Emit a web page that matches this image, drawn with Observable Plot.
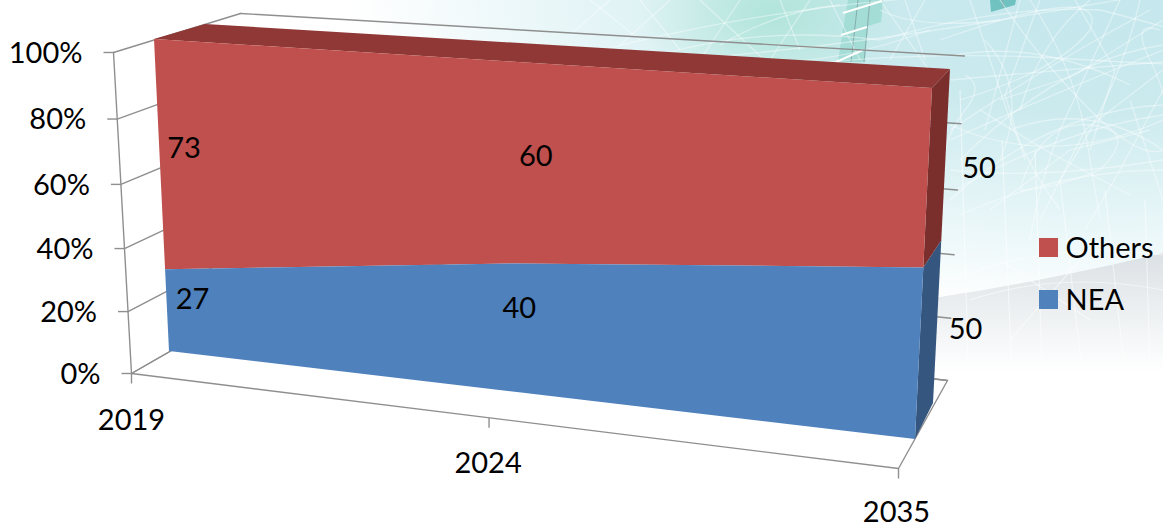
<!DOCTYPE html>
<html>
<head>
<meta charset="utf-8">
<script src="https://cdn.jsdelivr.net/npm/d3@7"></script>
<script src="https://cdn.jsdelivr.net/npm/@observablehq/plot@0.6"></script>
<style>
  html, body { margin: 0; padding: 0; background: #fff; }
  #stage { position: relative; width: 1163px; height: 528px; overflow: hidden; background: #fff; }
  #stage > * { position: absolute; left: 0; top: 0; }
  #tint { width: 1163px; height: 528px;
    background:
      radial-gradient(ellipse 130px 90px at 770px 15px, rgba(150,222,200,.55), rgba(150,222,200,0) 100%),
      radial-gradient(ellipse 740px 310px at 1090px 0px, #c4e7ed 0%, #cbeaee 35%, #e8f6f8 72%, #ffffff 100%);
  }
  #band { width: 1163px; height: 528px;
    clip-path: path("M640 335 C760 325 860 305 940 297 C1020 285 1100 268 1163 253 L1163 400 L640 400 Z");
    background: linear-gradient(to bottom, rgba(205,211,216,0) 230px, #dce1e5 255px, #e9edef 300px, #ffffff 372px);
  }
  #decor { filter: blur(.6px); }
</style>
</head>
<body>
<div id="stage">
  <div id="tint"></div>
  <div id="band"></div>
  <svg id="decor" width="1163" height="528" fill="none">
    <g fill="#a4dcd6">
      <path d="M848 0 H883 L881 22 L868 26 L865 62 H838 L842 35 Z"/>
    </g>
    <g fill="#6fc2c0"><path d="M990 0 H1016 L1015 5 L991 12 Z"/></g>
    <g stroke="#86adad" stroke-width="1"><path d="M858 0 L851 62 M870 0 L864 62 M1003 0 L1003 8"/></g>
    <g stroke="#fff" stroke-width="2"><path d="M843 13 L882 1 M841 35 L867 27 M836 62 L863 50"/></g>
    <g stroke="#fff" stroke-opacity=".4" stroke-width="1.3">
      <path d="M470 90 Q700 10 960 -5"/>
      <path d="M520 70 Q760 60 1000 20 T1163 -10"/>
      <path d="M600 110 Q800 40 1090 60 T1100 10 Q1000 5 880 40"/>
      <path d="M940 40 Q1110 -20 1090 30 Q1060 70 960 100"/>
      <path d="M950 140 Q1050 95 1163 50"/>
      <path d="M950 80 Q1060 70 1163 62"/>
      <path d="M960 160 Q1060 60 1163 45"/>
      <path d="M950 130 Q1040 70 1150 10"/>
      <path d="M965 75 Q985 85 965 110 Q950 130 945 150"/>
      <path d="M1000 0 Q1040 60 1090 110 T1163 150"/>
      <path d="M1030 0 Q1070 60 1085 130 L1100 220"/>
      <path d="M1120 0 L1060 130 Q1040 180 1030 240"/>
      <path d="M1140 0 Q1120 90 1060 180"/>
      <path d="M970 0 L1010 120 Q1030 170 1060 210"/>
      <path d="M1020 0 L985 130"/>
      <path d="M1160 30 Q1130 20 1150 60 T1163 120"/>
      <path d="M955 190 Q1060 130 1163 115"/>
      <path d="M950 125 Q1050 170 1163 120"/>
      <path d="M950 200 Q1050 110 1163 105"/>
      <path d="M1010 130 Q1090 100 1163 150"/>
      <path d="M950 170 Q1040 180 1163 160"/>
      <path d="M960 215 Q1060 170 1163 170"/>
      <path d="M1020 190 Q1040 120 1090 125 T1100 170 Q1050 190 1020 190"/>
      <path d="M880 0 L950 100"/>
      <path d="M905 0 L925 60"/>
      <path d="M925 0 L890 60"/>
      <path d="M1163 70 L1085 130 L1040 220"/>
      <path d="M700 0 L770 65"/>
      <path d="M740 0 L700 60"/>
      <path d="M780 0 L800 50"/>
      <path d="M810 0 L770 60"/>
      <path d="M830 0 L860 60"/>
      <path d="M640 0 L680 50"/>
      <path d="M670 0 L620 45"/>
      <path d="M590 0 L640 40"/>
      <path d="M610 0 L570 35"/>
      <path d="M720 45 Q780 10 840 5"/>
      <path d="M660 55 Q760 25 880 40"/>
      <path d="M740 60 Q820 70 930 30"/>
      <path d="M880 10 Q920 30 1000 20"/>
      <path d="M1040 0 L1005 95 L1025 160"/>
      <path d="M1075 0 L1115 70 L1090 150"/>
      <path d="M955 55 Q1040 40 1130 85"/>
      <path d="M1163 20 L1075 75 L1000 100"/>
      <path d="M1090 0 Q1040 40 1020 110"/>
      <path d="M985 40 Q1030 90 1000 160"/>
      <path d="M1163 90 L1120 170 L1085 230"/>
      <path d="M1130 100 L1163 200"/>
      <path d="M980 110 L1045 150 L1130 195"/>
      <path d="M1150 130 L1070 150 L990 210"/>
    </g>
    <g stroke="#fff" stroke-opacity=".5" stroke-width="1.2">
      <path d="M960 90 L968 360"/>
      <path d="M1002 140 L1012 375"/>
      <path d="M1035 150 L1042 370"/>
      <path d="M1060 180 L1082 370"/>
      <path d="M1105 190 L1125 375"/>
      <path d="M1145 200 L1150 370"/>
      <path d="M950 280 Q1050 240 1163 255"/>
      <path d="M970 300 Q1060 270 1163 290"/>
      <path d="M1000 260 L1090 320"/>
      <path d="M1080 260 L1010 340"/>
    </g>
  </svg>
</div>
<script>
// Share per year, in percent
const years = ["2019", "2024", "2035"];
const yearPosition = [0, 0.5, 1];
const nea = [27, 40, 50];
const others = [73, 60, 50];
const valueTicks = [0, 20, 40, 60, 80, 100];
const legendNames = ["Others", "NEA"];

const colors = {
  Others: "#C0504D", NEA: "#4F81BD",
  othersTop: "#8F3836", othersSide: "#7B2F2D", neaSide: "#34567F",
  grid: "#8F8F8F"
};
const font = "Lato, 'Open Sans', sans-serif";
const fontSize = 29;

// Perspective map of the unit square onto a quadrilateral
// (corners: u0v0, u1v0, u1v1, u0v1)
function homography([[x0, y0], [x1, y1], [x2, y2], [x3, y3]]) {
  const sx = x0 - x1 + x2 - x3, sy = y0 - y1 + y2 - y3;
  const dx1 = x1 - x2, dx2 = x3 - x2, dy1 = y1 - y2, dy2 = y3 - y2;
  const den = dx1 * dy2 - dx2 * dy1;
  const g = (sx * dy2 - dx2 * sy) / den, h = (dx1 * sy - sx * dy1) / den;
  const a = x1 - x0 + g * x1, b = x3 - x0 + h * x3;
  const d = y1 - y0 + g * y1, e = y3 - y0 + h * y3;
  return (u, v) => {
    const w = g * u + h * v + 1;
    return [(a * u + b * v + x0) / w, (d * u + e * v + y0) / w];
  };
}

// The planes of the 3-D box: front and back of the chart box, front and back of the area slab
const boxFront = homography([[131, 373], [898, 468], [918, 103], [113, 52]]);
const boxBack = homography([[258, 300], [947, 380], [964, 55.5], [240, 13]]);
const slabFront = homography([[169, 351], [915, 439], [932, 88], [154, 39]]);
const slabBack = homography([[223, 320], [933, 403], [950, 69], [205, 24]]);

const onPlane = (plane, u, pct) => plane(u, pct / 100);
const px = (f) => (d) => f(d)[0];
const py = (f) => (d) => f(d)[1];

// Table for the stacked area, one row per year
const rows = years.map((year, i) => ({ year, u: yearPosition[i], nea: nea[i], others: others[i] }));
const last = rows[rows.length - 1];

const neaBase = (d) => onPlane(slabFront, d.u, 0);
const neaTop = (d) => onPlane(slabFront, d.u, d.nea);
const stackTop = (d) => onPlane(slabFront, d.u, d.nea + d.others);
const backTop = (d) => onPlane(slabBack, d.u, d.nea + d.others);

// Side faces run from the front plane to the back plane at the final year
const planes = [slabFront, slabBack];

// Gridlines: along the left wall, then across the back wall
const wallLines = valueTicks.flatMap((t) => [
  { t, seg: "left", at: onPlane(boxFront, 0, t) },
  { t, seg: "left", at: onPlane(boxBack, 0, t) },
  { t, seg: "back", at: onPlane(boxBack, 0, t) },
  { t, seg: "back", at: onPlane(boxBack, 1, t) }
]);
const floorOutline = [
  onPlane(boxFront, 0, 0), onPlane(boxFront, 1, 0),
  onPlane(boxBack, 1, 0), onPlane(boxBack, 0, 0), onPlane(boxFront, 0, 0)
];
const valueAxis = valueTicks.map((t) => ({ t, at: onPlane(boxFront, 0, t) }));
const yearAxis = rows.map((d) => ({ ...d, at: onPlane(boxFront, d.u, 0) }));

// Value labels sit at the middle of each band, nudged the way the 3-D chart lays them out
const labelNudge = { NEA: [[25, -11], [0, -20], [46, -25]], Others: [[24, -8], [17, -8], [51, -11]] };
const valueLabels = rows.flatMap((d, i) => [
  { value: d.nea, at: onPlane(slabFront, d.u, d.nea / 2), nudge: labelNudge.NEA[i] },
  { value: d.others, at: onPlane(slabFront, d.u, d.nea + d.others / 2), nudge: labelNudge.Others[i] }
]);

// Legend block on the right
const legendX = 1039, legendSwatch = 19, legendTop = [238, 290];
const legendItems = legendNames.map((name, i) => ({ name, top: legendTop[i] }));

const chart = Plot.plot({
  width: 1163,
  height: 528,
  margin: 0,
  x: { type: "identity", axis: null },
  y: { type: "identity", axis: null },
  style: { background: "transparent", fontFamily: font },
  marks: [
    // walls and floor
    Plot.line(wallLines, { x: (d) => d.at[0], y: (d) => d.at[1], z: (d) => d.seg + d.t, stroke: colors.grid, strokeWidth: 1.4 }),
    Plot.line(floorOutline, { x: (d) => d[0], y: (d) => d[1], stroke: colors.grid, strokeWidth: 1.4 }),
    Plot.line([onPlane(boxFront, 0, 0), onPlane(boxFront, 0, 100)], { x: (d) => d[0], y: (d) => d[1], stroke: colors.grid, strokeWidth: 1.4 }),
    // ticks
    Plot.link(valueAxis, { x1: (d) => d.at[0] - 10, y1: (d) => d.at[1], x2: (d) => d.at[0], y2: (d) => d.at[1], stroke: colors.grid, strokeWidth: 1.4 }),
    Plot.link(yearAxis, { x1: (d) => d.at[0], y1: (d) => d.at[1], x2: (d) => d.at[0], y2: (d) => d.at[1] + 10, stroke: colors.grid, strokeWidth: 1.4 }),
    // side faces of the slab at the last year
    Plot.area(planes, {
      x1: (p) => onPlane(p, 1, 0)[0], y1: (p) => onPlane(p, 1, 0)[1],
      x2: (p) => onPlane(p, 1, last.nea)[0], y2: (p) => onPlane(p, 1, last.nea)[1],
      fill: colors.neaSide
    }),
    Plot.area(planes, {
      x1: (p) => onPlane(p, 1, last.nea)[0], y1: (p) => onPlane(p, 1, last.nea)[1],
      x2: (p) => onPlane(p, 1, last.nea + last.others)[0], y2: (p) => onPlane(p, 1, last.nea + last.others)[1],
      fill: colors.othersSide
    }),
    // top face
    Plot.area(rows, { x1: px(stackTop), y1: py(stackTop), x2: px(backTop), y2: py(backTop), fill: colors.othersTop }),
    // front faces
    Plot.area(rows, { x1: px(neaTop), y1: py(neaTop), x2: px(stackTop), y2: py(stackTop), fill: colors.Others }),
    Plot.area(rows, { x1: px(neaBase), y1: py(neaBase), x2: px(neaTop), y2: py(neaTop), fill: colors.NEA }),
    // axis labels
    Plot.text(valueAxis, {
      x: (d) => d.at[0] - 31, y: (d) => d.at[1] + 1, text: (d) => `${d.t}%`,
      textAnchor: "end", fontSize, fontFamily: font, fill: "#000"
    }),
    Plot.text(yearAxis, {
      x: (d) => d.at[0] - 2 * d.u, y: (d) => d.at[1] + 47 - 3 * d.u, text: (d) => d.year,
      fontSize, fontFamily: font, fill: "#000"
    }),
    // value labels
    Plot.text(valueLabels, {
      x: (d) => d.at[0] + d.nudge[0], y: (d) => d.at[1] + d.nudge[1], text: (d) => String(d.value),
      fontSize, fontFamily: font, fill: "#000"
    }),
    // legend
    Plot.rect(legendItems, {
      x1: legendX, x2: legendX + legendSwatch,
      y1: (d) => d.top, y2: (d) => d.top + legendSwatch,
      fill: (d) => colors[d.name]
    }),
    Plot.text(legendItems, {
      x: legendX + 26, y: (d) => d.top + 10, text: (d) => d.name,
      textAnchor: "start", fontSize, fontFamily: font, fill: "#000"
    })
  ]
});
document.getElementById("stage").appendChild(chart);
</script>
</body>
</html>
